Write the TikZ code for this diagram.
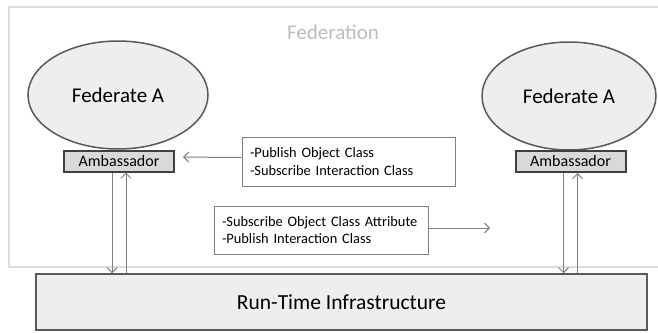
\documentclass[tikz,border=0pt]{standalone}
\usepackage{fontspec}
\setmainfont{Carlito}
\usetikzlibrary{shapes.geometric,arrows.meta}
\definecolor{edge}{HTML}{595959}
\definecolor{dark}{HTML}{404040}
\definecolor{pale}{HTML}{EEEEEE}
\definecolor{mid}{HTML}{D9D9D9}
\definecolor{framegray}{HTML}{DDDDDD}
\definecolor{titlegray}{HTML}{BDBDBD}
\definecolor{wire}{HTML}{808080}

\begin{document}
\begin{tikzpicture}[x=1pt,y=-1pt,
  fed/.style={ellipse,draw=edge,fill=pale,line width=1.5pt,inner sep=0pt,minimum height=108pt,font=\fontsize{21}{25}\selectfont},
  amb/.style={rectangle,draw=dark,fill=mid,line width=2pt,inner sep=0pt,minimum width=110pt,minimum height=21pt,font=\fontsize{16}{19}\selectfont},
  note/.style={rectangle,draw=wire,fill=white,line width=0.8pt,align=left,inner xsep=8pt,inner ysep=0pt,font={\fontsize{14.4}{17.7}\selectfont\hyphenpenalty=10000\relax}},
  flow/.style={draw=wire,line width=1pt,-{Straight Barb[length=5pt,width=10pt]}}]
\useasboundingbox (0,0) rectangle (658,332);
\draw[draw=framegray,line width=2.5pt] (9,7) rectangle (664,267);
\node[text=titlegray,font=\fontsize{21}{25}\selectfont] (fedn) at (333,32) {Federation};
\node[fed,minimum width=180pt] (fedA) at (118,95) {Federate A};
\node[fed,minimum width=174pt] (fedB) at (569,96) {Federate A};
\node[amb] (ambA) at (119,161) {Ambassador};
\node[amb] (ambB) at (570.5,161.5) {Ambassador};
\node[rectangle,draw=edge,fill=pale,line width=1.5pt,minimum width=611pt,minimum height=56pt,font=\fontsize{21.5}{25}\selectfont] (rti) at (341.5,302) {Run-Time Infrastructure};
\node[note,text width=197pt,minimum height=49pt] (pubA) at (348.5,161.5) {-Publish Object Class\\-Subscribe Interaction Class};
\node[note,text width=198pt,minimum height=48pt] (subB) at (321,230) {-Subscribe Object Class Attribute\\-Publish Interaction Class};
\coordinate (toB) at (490,228);
\draw[flow,shorten >=8pt] ([yshift=4pt]pubA.west) -- ([yshift=4pt]ambA.east);
\draw[flow] ([yshift=2pt]subB.east) -- (toB);
\draw[flow] ([xshift=-7pt]ambA.south) -- ([xshift=-7pt]ambA.south |- rti.north);
\draw[flow] ([xshift=7pt]ambA.south |- rti.north) -- ([xshift=7pt]ambA.south);
\draw[flow] ([xshift=-7pt]ambB.south) -- ([xshift=-7pt]ambB.south |- rti.north);
\draw[flow] ([xshift=7pt]ambB.south |- rti.north) -- ([xshift=7pt]ambB.south);
\end{tikzpicture}
\end{document}
